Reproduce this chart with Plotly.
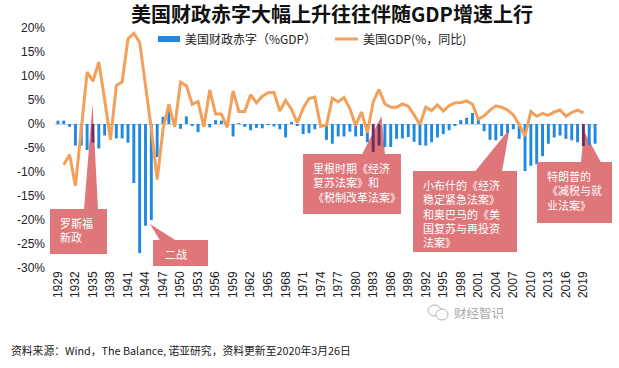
import plotly.graph_objects as go

# ---------------- data ----------------
years = list(range(1929, 2022))
deficit_pct_gdp = [
    0.7, 0.7, -0.6, -4.5, -4.5, -5.4, -3.9, -5.1, -2.4, -0.1,      # 1929-1938
    -3.0, -3.0, -3.9, -12.3, -26.9, -21.2, -20.0, -6.9, 1.5, 2.8,  # 1939-1948
    0.2, -1.0, 1.6, -0.4, -1.7, -0.3, -0.7, 0.8, 0.7, -0.6,        # 1949-1958
    -2.6, 0.1, -0.6, -1.3, -0.8, -0.9, -0.2, -0.5, -1.1, -2.8,     # 1959-1968
    0.3, -0.3, -2.1, -1.9, -1.1, -0.4, -3.3, -4.1, -2.6, -2.6,     # 1969-1978
    -1.6, -2.6, -2.5, -3.8, -5.8, -4.5, -4.8, -4.8, -3.1, -3.0,    # 1979-1988
    -2.7, -3.7, -4.4, -4.5, -3.8, -2.8, -2.1, -1.3, -0.3, 0.8,     # 1989-1998
    1.3, 2.3, 1.2, -1.5, -3.3, -3.4, -2.5, -1.8, -1.1, -3.1,       # 1999-2008
    -9.8, -8.7, -8.4, -6.7, -4.1, -2.8, -2.4, -3.1, -3.4, -3.8,    # 2009-2018
    -4.6, -4.4, -4.1,                                              # 2019-2021
]
gdp_years = list(range(1930, 2020))
gdp_growth = [
    -8.5, -6.4, -12.9, -1.2, 10.8, 8.9, 12.9, 5.1, -3.3, 8.0,      # 1930-1939
    8.8, 17.7, 18.9, 17.0, 8.0, -1.0, -11.6, -1.1, 4.1, -0.6,      # 1940-1949
    8.7, 8.0, 4.1, 4.7, -0.6, 7.1, 2.1, 2.1, -0.7, 6.9,            # 1950-1959
    2.6, 2.6, 6.1, 4.4, 5.8, 6.5, 6.6, 2.7, 4.9, 3.1,              # 1960-1969
    0.2, 3.3, 5.3, 5.6, -0.5, -0.2, 5.4, 4.6, 5.5, 3.2,            # 1970-1979
    -0.3, 2.5, -1.8, 4.6, 7.2, 4.2, 3.5, 3.5, 4.2, 3.7,            # 1980-1989
    1.9, -0.1, 3.5, 2.8, 4.0, 2.7, 3.8, 4.4, 4.5, 4.8,             # 1990-1999
    4.1, 1.0, 1.7, 2.9, 3.8, 3.5, 2.9, 1.9, -0.1, -2.5,            # 2000-2009
    2.6, 1.6, 2.2, 1.8, 2.5, 2.9, 1.6, 2.4, 2.9, 2.3,              # 2010-2019
]
x_tick_years = list(range(1929, 2020, 3))
y_ticks = [20, 15, 10, 5, 0, -5, -10, -15, -20, -25, -30]
highlight_years = [1935, 1983, 1984, 2019]

title_text = "美国财政赤字大幅上升往往伴随GDP增速上行"
legend_bar = "美国财政赤字（%GDP）"
legend_line = "美国GDP(%，同比)"
source_text = "资料来源：Wind，The Balance, 诺亚研究，资料更新至2020年3月26日"
watermark = "财经智识"

callouts = [
    ["罗斯福", "新政"],
    ["二战"],
    ["里根时期《经济", "复苏法案》和", "《税制改革法案》"],
    ["小布什的《经济", "稳定紧急法案》", "和奥巴马的《美", "国复苏与再投资", "法案》"],
    ["特朗普的", "《减税与就", "业法案》"],
]

# ---------------- layout geometry (pixels) ----------------
W_PX, H_PX = 619, 368
L, R, T, B = 55, 21, 28, 100
PW = W_PX - L - R
PH = H_PX - T - B


def px(x):
    return (x - L) / PW


def py(y):
    return (H_PX - B - y) / PH


BLUE = "#1F88E2"
PURPLE = "#6A2E62"
ORANGE = "#F2A05A"
RED = "#DE767A"
CJK = "Noto Sans CJK SC"
LAT = "Liberation Sans, Arial, sans-serif"

bar_colors = [PURPLE if y in highlight_years else BLUE for y in years]

fig = go.Figure()
fig.add_trace(go.Bar(x=years, y=deficit_pct_gdp, marker_color=bar_colors,
                     marker_line_width=0, width=0.5, name=legend_bar))
fig.add_trace(go.Scatter(x=gdp_years, y=gdp_growth, mode="lines",
                         line=dict(color=ORANGE, width=3), name=legend_line))

shapes = []
annotations = []

# callout geometry: box (x0, y0, x1, y1), pointer triangle (base a, base b, tip), text x, text top y
geo = [
    dict(box=(50, 209, 107, 254), tri=((84, 209.5), (98, 209.5), (92.5, 104)), tx=58, ty=212.5),
    dict(box=(153, 240, 208, 266), tri=((160, 240.5), (176, 240.5), (150, 224)), tx=163, ty=244),
    dict(box=(303, 154, 401, 214), tri=((362, 154.5), (385, 154.5), (381.5, 116)), tx=311, ty=157.5),
    dict(box=(413, 171, 517, 252), tri=((475, 171.5), (502, 171.5), (509.5, 129)), tx=421, ty=174.5),
    dict(box=(537, 162, 612, 223), tri=((581, 162.5), (601, 162.5), (584, 131)), tx=545, ty=165.5),
]

for lines, g in zip(callouts, geo):
    x0, y0, x1, y1 = g["box"]
    a, b, t = g["tri"]
    shapes.append(dict(type="path", xref="paper", yref="paper", layer="below",
                       path=f"M {px(a[0])},{py(a[1])} L {px(t[0])},{py(t[1])} L {px(b[0])},{py(b[1])} Z",
                       fillcolor=RED, line=dict(width=0)))
    shapes.append(dict(type="rect", xref="paper", yref="paper", layer="above",
                       x0=px(x0), x1=px(x1), y0=py(y1), y1=py(y0),
                       fillcolor=RED, line=dict(width=0)))
    annotations.append(dict(text="<br>".join(lines), x=px(g["tx"]), y=py(g["ty"]),
                            xref="paper", yref="paper", align="left",
                            xanchor="left", yanchor="top", showarrow=False,
                            font=dict(family=CJK, size=11, color="white")))

# custom legend
shapes.append(dict(type="rect", xref="paper", yref="paper", x0=px(158), x1=px(180),
                   y0=py(42), y1=py(36), fillcolor=BLUE, line=dict(width=0)))
shapes.append(dict(type="line", xref="paper", yref="paper", x0=px(335), x1=px(358),
                   y0=py(39), y1=py(39), line=dict(color=ORANGE, width=3)))
annotations.append(dict(text=legend_bar, x=px(183), y=py(39), xref="paper", yref="paper",
                        xanchor="left", yanchor="middle", showarrow=False,
                        font=dict(family=CJK, size=12, color="#222222")))
annotations.append(dict(text=legend_line, x=px(361), y=py(39), xref="paper", yref="paper",
                        xanchor="left", yanchor="middle", showarrow=False,
                        font=dict(family=CJK, size=12, color="#222222")))

# title
annotations.append(dict(text=f"<b>{title_text}</b>", x=px(331.5), y=py(14), xref="paper", yref="paper",
                        xanchor="center", yanchor="middle", showarrow=False,
                        font=dict(family=CJK, size=20, color="#111111")))
# source
annotations.append(dict(text=source_text, x=px(9), y=py(350), xref="paper", yref="paper",
                        xanchor="left", yanchor="middle", showarrow=False,
                        font=dict(family=CJK, size=10.8, color="#222222")))
# watermark
annotations.append(dict(text=watermark, x=px(452), y=py(312), xref="paper", yref="paper",
                        xanchor="left", yanchor="middle", showarrow=False,
                        font=dict(family=CJK, size=12.5, color="#A8A8A8")))
shapes.append(dict(type="circle", xref="paper", yref="paper", x0=px(428), x1=px(441),
                   y0=py(316), y1=py(305), line=dict(color="#B0B0B0", width=1)))
shapes.append(dict(type="circle", xref="paper", yref="paper", x0=px(436), x1=px(448),
                   y0=py(320), y1=py(309), line=dict(color="#B0B0B0", width=1), fillcolor="white"))

fig.update_layout(
    width=W_PX, height=H_PX,
    margin=dict(l=L, r=R, t=T, b=B, pad=0),
    paper_bgcolor="white", plot_bgcolor="rgba(0,0,0,0)",
    showlegend=False,
    bargap=0.5,
    shapes=shapes, annotations=annotations,
    xaxis=dict(range=[1928.5, 2021.5], tickmode="array", tickvals=x_tick_years,
               ticktext=[str(y) for y in x_tick_years], tickangle=-90,
               showgrid=False, zeroline=False, showline=False, ticks="",
               tickfont=dict(family=LAT, size=12, color="#222222")),
    yaxis=dict(range=[-30, 20], tickmode="array", tickvals=y_ticks,
               ticktext=[f"{v}%" for v in y_ticks], showgrid=False,
               zeroline=True, zerolinecolor="#C9D3DE", zerolinewidth=1,
               showline=False, ticks="", ticklabelstandoff=9,
               tickfont=dict(family=LAT, size=12, color="#222222")),
)

fig.write_html("out.html", config={"displayModeBar": False},
               post_script="document.body.style.margin='0';document.body.style.overflow='hidden';")
